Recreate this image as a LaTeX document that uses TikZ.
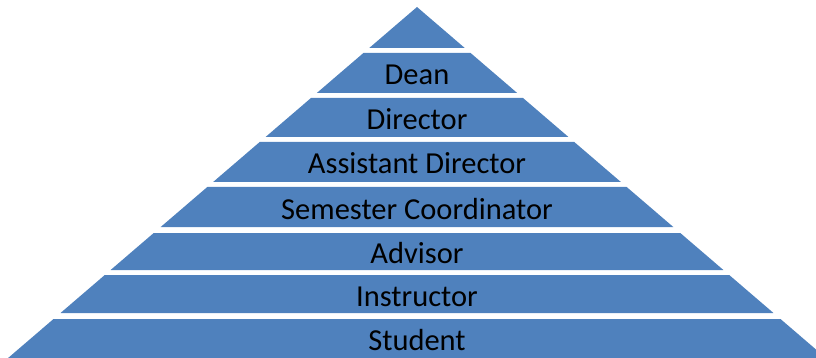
\documentclass[tikz,border=0pt]{standalone}
\usepackage{fontspec}
\setmainfont{Carlito}
\definecolor{bandblue}{HTML}{4F81BD}

\begin{document}
\begin{tikzpicture} [x=1pt, y=-1pt,
        band/.style={fill=bandblue},
        level/.style={font=\fontsize{30.5}{36}\selectfont, anchor=base, inner sep=0pt}]
            \useasboundingbox (0,0) rectangle (816,358);

            % top of the pyramid
            \fill[band] (417,7) -- ({417+41*1.165},48) -- ({417-41*1.165},48) -- cycle;

            % one band per level, label in the middle
            \foreach \t/\b/\n/\l in {53/93/dean/Dean, 98/137/director/Director,
                    142/182/assistant/Assistant Director, 187/227/semester/Semester Coordinator,
                    233/270/advisor/Advisor, 275/313/instructor/Instructor,
                    319/358/student/Student} {
                \fill[band] ({417-(\t-7)*1.165},\t) -- ({417+(\t-7)*1.165},\t)
                    -- ({417+(\b-7)*1.165},\b) -- ({417-(\b-7)*1.165},\b) -- cycle;
                \node[level] (\n) at (417,{(\t+\b)/2+12}) {\l};
            }
        \end{tikzpicture}
\end{document}
